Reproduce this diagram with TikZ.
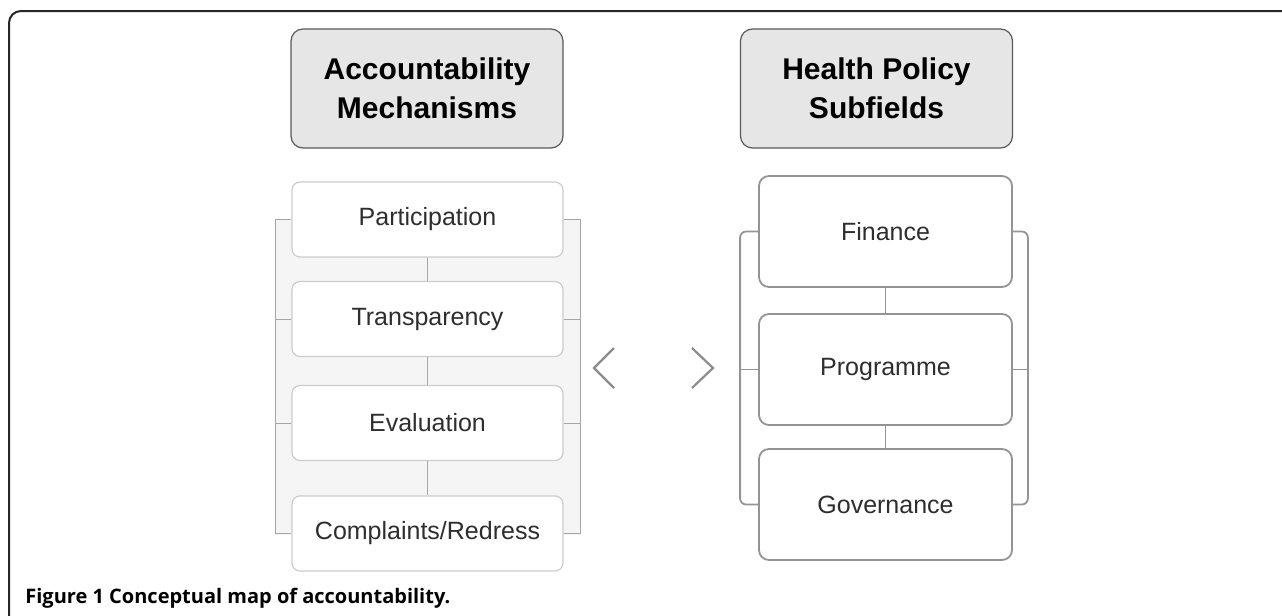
\documentclass[tikz,border=0pt]{standalone}
\usepackage{fontspec}
\setmainfont{Liberation Sans}
\newfontfamily\capfont{Open Sans}
\usetikzlibrary{positioning,calc}
\definecolor{hdrfill}{HTML}{E6E6E6}
\definecolor{bgfill}{HTML}{F5F5F5}
\definecolor{chev}{HTML}{8C8C8C}

\begin{document}
\begin{tikzpicture}[
		x=0.5pt, y=-0.5pt,
		header/.style={rectangle, draw=black!65, fill=hdrfill, rounded corners=6pt, line width=0.6pt, minimum width=136pt, minimum height=59.5pt, align=center, font=\fontsize{15}{19.5}\selectfont\bfseries},
		mech/.style={rectangle, draw=black!20, fill=white, rounded corners=4pt, line width=0.6pt, minimum width=135.5pt, minimum height=37.5pt, text=black!82, font=\fontsize{12.5}{15}\selectfont},
		field/.style={rectangle, draw=black!42, fill=white, rounded corners=5pt, line width=0.9pt, minimum width=126.5pt, minimum height=55.5pt, text=black!82, font=\fontsize{12.5}{15}\selectfont},
		thin link/.style={draw=black!35, line width=0.5pt},
		thick link/.style={draw=black!42, line width=0.9pt}
		]
		\useasboundingbox (0,0) rectangle (1282,616);
		\draw [line width=1pt, black!85, rounded corners=6pt] (9,620) -- (9,11) -- (1290,11);
		
		\node (am) at (427,88.5) [header] {Accountability\\Mechanisms};
		\node (hp) at (876.5,88.5) [header] {Health Policy\\Subfields};
		
		% mechanisms column
		\coordinate (lb) at (275,219);
		\coordinate (rb) at (580,535);
		\fill [bgfill] (lb) rectangle (rb);
		\node (par) at (427.5,219.5) [mech] {Participation};
		\node (tra) at (427.5,319) [mech] {Transparency};
		\node (eva) at (427.5,423) [mech] {Evaluation};
		\node (com) at (427.5,533.5) [mech] {Complaints/Redress};
		
		\draw [thin link] (par) -- (tra);
		\draw [thin link] (tra) -- (eva);
		\draw [thin link] (eva) -- (com);
		\draw [thin link] (par.west) -- (par.west -| lb) |- (com.west);
		\draw [thin link] (par.east) -- (par.east -| rb) |- (com.east);
		\draw [thin link] (tra.west) -- (tra.west -| lb);
		\draw [thin link] (eva.west) -- (eva.west -| lb);
		\draw [thin link] (tra.east) -- (tra.east -| rb);
		\draw [thin link] (eva.east) -- (eva.east -| rb);
		
		% subfields column
		\node (fin) at (885.5,231.5) [field] {Finance};
		\node (pro) at (885.5,369.5) [field] {Programme};
		\node (gov) at (885.5,504.5) [field] {Governance};
		
		\draw [thick link] (fin) -- (pro);
		\draw [thick link] (pro) -- (gov);
		\draw [thick link, rounded corners=3pt] (fin.west) -- ++(-18,0) |- (gov.west);
		\draw [thick link, rounded corners=3pt] (fin.east) -- ++(15,0) |- (gov.east);
		\draw [thick link] (pro.west) -- ++(-18,0);
		\draw [thick link] (pro.east) -- ++(15,0);
		
		% chevrons
		\draw [chev, line width=1.1pt] (614,348) -- (594,368) -- (614,388);
		\draw [chev, line width=1.1pt] (692,348) -- (713,368) -- (692,388);
		
		\node (cap) at (25,598) [anchor=west, inner sep=0pt, font=\capfont\fontsize{10}{12}\selectfont\bfseries] {Figure 1 Conceptual map of accountability.};
	\end{tikzpicture}
\end{document}
